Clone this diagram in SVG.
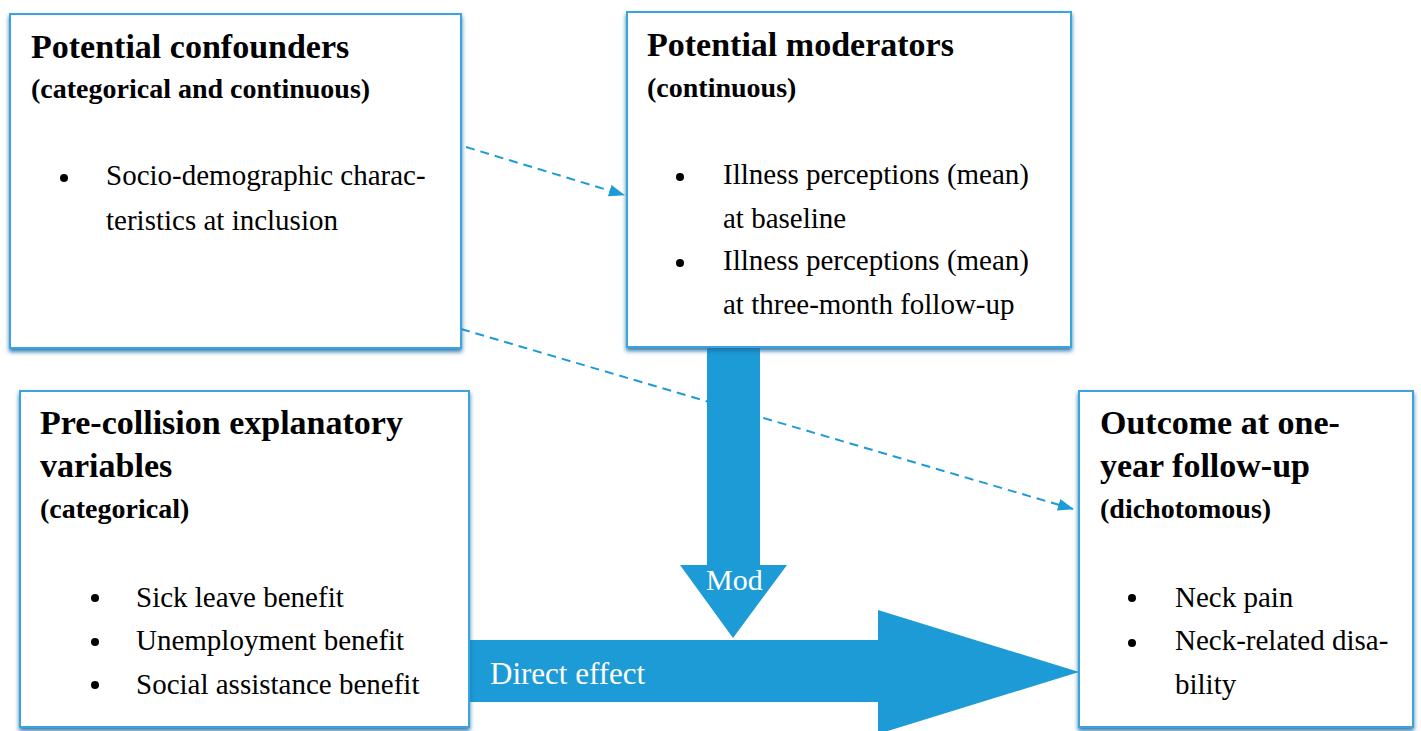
<svg xmlns="http://www.w3.org/2000/svg" width="1421" height="731" viewBox="0 0 1421 731">
<style>
.box{fill:#fff;stroke:#3aa3de;stroke-width:2}
.t{font-family:"Liberation Serif",serif;font-weight:bold;font-size:34px;fill:#000}
.s{font-family:"Liberation Serif",serif;font-weight:bold;font-size:28px;fill:#000}
.b{font-family:"Liberation Serif",serif;font-size:29px;fill:#000}
.w{font-family:"Liberation Serif",serif;font-size:30px;fill:#fff}
.big{fill:#1c9bd6}
.dash{fill:none;stroke:#1c9bd6;stroke-width:2;stroke-dasharray:9 6}
</style>
<defs>
<filter id="sh" x="-5%" y="-5%" width="110%" height="115%">
<feDropShadow dx="0" dy="3" stdDeviation="2" flood-color="#1a6ea8" flood-opacity="0.9"/>
</filter>
<marker id="ah" markerWidth="16" markerHeight="12" refX="15" refY="6" orient="auto" markerUnits="userSpaceOnUse">
<path d="M0,0 L16,6 L0,12 Z" fill="#1c9bd6"/>
</marker>
</defs>
<g id="connectors">
<polygon class="big" points="707,347 760,347 760,565 787,565 733,638 680,565 707,565"/>
<polygon class="big" points="470,640 878,640 878,610 1079,672 878,734 878,702 470,702"/>
<text class="w" x="706" y="590">Mod</text>
<text class="w" x="490" y="684" style="font-size:31px">Direct effect</text>
<path class="dash" d="M466,147 L624,195" marker-end="url(#ah)"/>
<path class="dash" d="M461,329 L1073,509" marker-end="url(#ah)"/>
</g>
<g id="confounders">
<rect class="box" x="10" y="14" width="451" height="334" filter="url(#sh)"/>
<text class="t" x="31" y="58">Potential confounders</text>
<text class="s" x="31" y="98">(categorical and continuous)</text>
<circle cx="64" cy="178" r="4"/>
<text class="b" x="106" y="185">Socio-demographic charac-</text>
<text class="b" x="106" y="230">teristics at inclusion</text>
</g>
<g id="moderators">
<rect class="box" x="627" y="12" width="444" height="335" filter="url(#sh)"/>
<text class="t" x="647" y="56">Potential moderators</text>
<text class="s" x="647" y="97">(continuous)</text>
<circle cx="680" cy="177" r="4"/>
<text class="b" x="723" y="184">Illness perceptions (mean)</text>
<text class="b" x="723" y="228">at baseline</text>
<circle cx="680" cy="263" r="4"/>
<text class="b" x="723" y="270">Illness perceptions (mean)</text>
<text class="b" x="723" y="314">at three-month follow-up</text>
</g>
<g id="precollision">
<rect class="box" x="20" y="391" width="449" height="336" filter="url(#sh)"/>
<text class="t" x="40" y="434">Pre-collision explanatory</text>
<text class="t" x="40" y="477">variables</text>
<text class="s" x="40" y="518">(categorical)</text>
<circle cx="95" cy="598" r="4"/>
<text class="b" x="136" y="607">Sick leave benefit</text>
<circle cx="95" cy="642" r="4"/>
<text class="b" x="136" y="650">Unemployment benefit</text>
<circle cx="95" cy="685" r="4"/>
<text class="b" x="136" y="694">Social assistance benefit</text>
</g>
<g id="outcome">
<rect class="box" x="1079" y="391" width="334" height="336" filter="url(#sh)"/>
<text class="t" x="1100" y="434">Outcome at one-</text>
<text class="t" x="1100" y="477">year follow-up</text>
<text class="s" x="1100" y="518">(dichotomous)</text>
<circle cx="1132" cy="598" r="4"/>
<text class="b" x="1175" y="607">Neck pain</text>
<circle cx="1132" cy="643" r="4"/>
<text class="b" x="1175" y="650">Neck-related disa-</text>
<text class="b" x="1175" y="694">bility</text>
</g>
</svg>
